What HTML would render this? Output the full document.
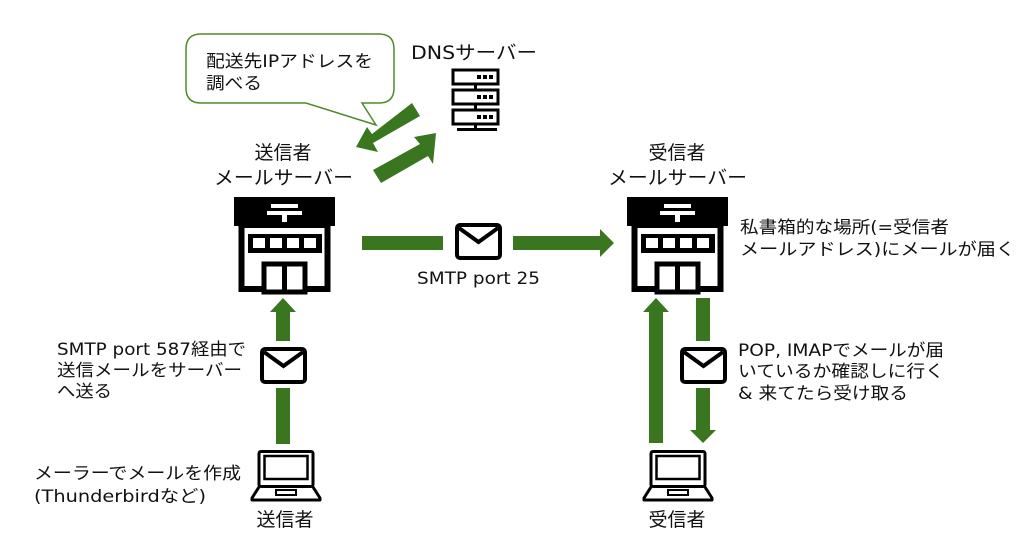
<!DOCTYPE html>
<html><head><meta charset="utf-8"><style>
html,body{margin:0;padding:0;background:#fff;}
svg{display:block;}
text{font-family:"DejaVu Sans","Noto Sans CJK JP",sans-serif;fill:#111;}
</style></head><body>
<svg width="1036" height="549" viewBox="0 0 1036 549" xmlns="http://www.w3.org/2000/svg">
<defs>
<g id="bld">
 <rect x="0" y="0" width="101" height="29" fill="#000"/>
 <rect x="37" y="7" width="27" height="4" fill="#fff"/>
 <rect x="33" y="14" width="35" height="4" fill="#fff"/>
 <rect x="48" y="14" width="5" height="13" fill="#fff"/>
 <rect x="7.5" y="28" width="86" height="64" fill="#fff" stroke="#000" stroke-width="6"/>
 <rect x="14" y="37" width="74" height="19" fill="#000"/>
 <rect x="19" y="41" width="12" height="10" fill="#fff"/>
 <rect x="36" y="41" width="12" height="10" fill="#fff"/>
 <rect x="53" y="41" width="12" height="10" fill="#fff"/>
 <rect x="70" y="41" width="12" height="10" fill="#fff"/>
 <rect x="30" y="67" width="41" height="28" fill="#fff" stroke="#000" stroke-width="5"/>
 <rect x="48" y="67" width="5" height="27" fill="#000"/>
</g>
<g id="env">
 <rect x="2" y="2" width="43" height="33" rx="3" fill="#fff" stroke="#000" stroke-width="4"/>
 <polyline points="4,5 23.5,19 43,5" fill="none" stroke="#000" stroke-width="4"/>
</g>
<g id="lap">
 <rect x="8" y="1.5" width="54" height="35" rx="2" fill="#fff" stroke="#000" stroke-width="3"/>
 <rect x="13.5" y="6" width="43" height="23" fill="none" stroke="#000" stroke-width="2.5"/>
 <path d="M8 37 L1 48 L1 50 L69 50 L69 48 L62 37" fill="none" stroke="#000" stroke-width="3" stroke-linejoin="round"/>
 <rect x="25" y="40" width="20" height="5" fill="none" stroke="#000" stroke-width="2"/>
</g>
</defs>

<!-- speech bubble -->
<path d="M201 34 H379 Q394 34 394 49 V88 Q394 103 379 103 H362 L376 125 L306 103 H201 Q186 103 186 88 V49 Q186 34 201 34 Z" fill="#fff" stroke="#4f8a2b" stroke-width="1.5"/>
<text x="206" y="67" font-size="17" textLength="167" lengthAdjust="spacingAndGlyphs">配送先IPアドレスを</text>
<text x="206" y="89" font-size="17" textLength="56" lengthAdjust="spacingAndGlyphs">調べる</text>

<!-- DNS -->
<text x="411" y="59" font-size="19" textLength="126" lengthAdjust="spacingAndGlyphs">DNSサーバー</text>
<g fill="#fff" stroke="#000" stroke-width="3">
 <rect x="453" y="70" width="45" height="14"/>
 <rect x="453" y="90" width="45" height="14"/>
 <rect x="453" y="110" width="45" height="14"/>
</g>
<g fill="#000">
 <rect x="477" y="75" width="4" height="4"/><rect x="483" y="75" width="4" height="4"/><rect x="489" y="75" width="4" height="4"/>
 <rect x="477" y="95" width="4" height="4"/><rect x="483" y="95" width="4" height="4"/><rect x="489" y="95" width="4" height="4"/>
 <rect x="477" y="115" width="4" height="4"/><rect x="483" y="115" width="4" height="4"/><rect x="489" y="115" width="4" height="4"/>
 <rect x="474" y="84" width="3" height="6"/>
 <rect x="474" y="104" width="3" height="6"/>
 <rect x="474" y="124" width="3" height="5"/>
 <rect x="457" y="128" width="40" height="3"/>
</g>

<!-- DNS arrows -->
<g fill="#3a761f">
 <polygon points="412,103 420,116 373,143 378,152 356,147 367,127 372,134"/>
 <polygon points="373,170 381,183 428,156 433,164 436,133 414,137 420,144"/>
</g>

<!-- sender server -->
<text x="283" y="159" font-size="19" text-anchor="middle">送信者</text>
<text x="214" y="184" font-size="19" textLength="139" lengthAdjust="spacingAndGlyphs">メールサーバー</text>
<use href="#bld" x="234" y="197"/>

<!-- receiver server -->
<text x="677" y="159" font-size="19" text-anchor="middle">受信者</text>
<text x="608" y="184" font-size="19" textLength="139" lengthAdjust="spacingAndGlyphs">メールサーバー</text>
<use href="#bld" x="627" y="197"/>
<text x="740" y="233" font-size="17" textLength="209" lengthAdjust="spacingAndGlyphs">私書箱的な場所(=受信者</text>
<text x="740" y="255" font-size="17" textLength="275" lengthAdjust="spacingAndGlyphs">メールアドレス)にメールが届く</text>

<!-- horizontal -->
<g fill="#3a761f">
 <rect x="362" y="236" width="81" height="14"/>
 <rect x="513" y="236" width="88" height="14"/>
 <polygon points="600,229 614,243 600,257"/>
</g>
<use href="#env" x="455" y="223"/>
<text x="417" y="284" font-size="17" textLength="123" lengthAdjust="spacingAndGlyphs">SMTP port 25</text>

<!-- left vertical -->
<g fill="#3a761f">
 <polygon points="283,298 296,312 290,312 290,341 276,341 276,312 270,312"/>
 <rect x="276" y="388" width="14" height="56"/>
</g>
<use href="#env" x="260" y="347"/>
<text x="57" y="355" font-size="17" textLength="189" lengthAdjust="spacingAndGlyphs">SMTP port 587経由で</text>
<text x="57" y="376" font-size="17" textLength="185" lengthAdjust="spacingAndGlyphs">送信メールをサーバー</text>
<text x="57" y="397" font-size="17" textLength="55" lengthAdjust="spacingAndGlyphs">へ送る</text>
<use href="#lap" x="251" y="450"/>
<text x="285" y="526" font-size="19" text-anchor="middle">送信者</text>
<text x="34" y="479" font-size="17" textLength="207" lengthAdjust="spacingAndGlyphs">メーラーでメールを作成</text>
<text x="34" y="502" font-size="17" textLength="172" lengthAdjust="spacingAndGlyphs">(Thunderbirdなど)</text>

<!-- right vertical -->
<g fill="#3a761f">
 <polygon points="656,298 669,312 663,312 663,443 649,443 649,312 643,312"/>
 <rect x="696" y="298" width="14" height="43"/>
 <polygon points="696,388 710,388 710,430 716,430 703,443 690,430 696,430"/>
</g>
<use href="#env" x="680" y="347"/>
<text x="738" y="356" font-size="17" textLength="206" lengthAdjust="spacingAndGlyphs">POP, IMAPでメールが届</text>
<text x="738" y="377" font-size="17" textLength="206" lengthAdjust="spacingAndGlyphs">いているか確認しに行く</text>
<text x="738" y="399" font-size="17" textLength="170" lengthAdjust="spacingAndGlyphs">&amp; 来てたら受け取る</text>
<use href="#lap" x="643" y="450"/>
<text x="677" y="526" font-size="19" text-anchor="middle">受信者</text>
</svg>
</body></html>
